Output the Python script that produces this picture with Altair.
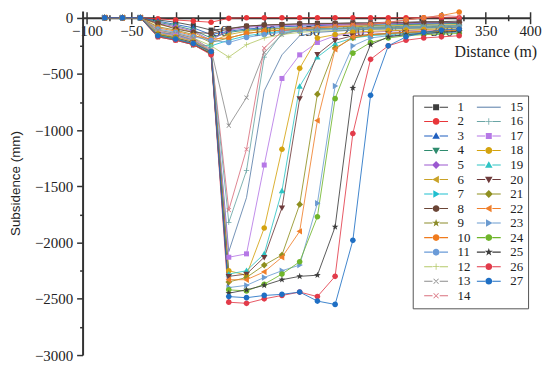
import altair as alt
import pandas as pd

# ---------------- data ----------------
X = [-80, -60, -40, -20, 0, 20, 40, 60, 80, 100, 120, 140, 160, 180, 200, 220, 240, 260, 280, 300, 320]

s01 = [0, 0, 0, -20, -40, -70, -110, -95, -75, -65, -60, -55, -50, -50, -45, -45, -40, -40, -35, -35, -30]
s02 = [0, 0, 0, -10, -20, -30, -40, -5, 0, 0, 0, 0, 0, 0, 0, 0, 0, 0, 0, 0, 0]
s03 = [0, 0, 0, -30, -60, -90, -150, -120, -100, -90, -80, -75, -70, -65, -60, -60, -55, -55, -50, -50, -45]
s04 = [0, 0, 0, -40, -70, -110, -180, -130, -110, -100, -95, -90, -85, -80, -75, -70, -65, -60, -60, -55, -50]
s05 = [0, 0, 0, -50, -80, -120, -200, -110, -85, -75, -70, -65, -60, -60, -55, -55, -50, -50, -45, -45, -40]
s06 = [0, 0, 0, -60, -90, -130, -210, -150, -120, -105, -95, -90, -85, -80, -80, -75, -70, -70, -65, -65, -60]
s07 = [0, 0, 0, -150, -180, -240, -250, -200, -160, -140, -120, -110, -100, -95, -90, -90, -85, -80, -80, -75, -70]
s08 = [0, 0, 0, -50, -100, -130, -140, -100, -75, -65, -60, -55, -55, -50, -50, -50, -45, -45, -40, -40, -40]
s09 = [0, 0, 0, -80, -110, -150, -220, -180, -140, -120, -110, -105, -100, -95, -95, -90, -90, -85, -85, -80, -80]
s10 = [0, 0, 0, -90, -120, -160, -190, -180, -140, -120, -110, -100, -90, -80, -70, -60, -40, -20, 0, 20, 50]
s11 = [0, 0, 0, -100, -130, -170, -200, -220, -175, -150, -130, -120, -110, -105, -100, -100, -95, -90, -90, -85, -80]
s12 = [0, 0, 0, -110, -140, -180, -250, -350, -240, -180, -150, -130, -120, -115, -110, -105, -100, -100, -95, -90, -90]
s13 = [0, 0, 0, -110, -140, -180, -280, -960, -710, -310, -150, -110, -100, -95, -90, -85, -80, -80, -75, -70, -70]
s14 = [0, 0, 0, -120, -150, -190, -290, -1710, -1170, -270, -120, -90, -80, -70, -60, -50, -40, -20, 0, 20, 10]
s15 = [0, 0, 0, -130, -150, -200, -300, -2080, -1600, -650, -330, -160, -130, -120, -110, -100, -100, -95, -90, -90, -85]
s16 = [0, 0, 0, -130, -160, -200, -300, -1820, -1360, -350, -140, -110, -100, -95, -90, -85, -80, -80, -75, -75, -70]
s17 = [0, 0, 0, -140, -160, -210, -300, -2130, -2100, -1310, -540, -330, -220, -160, -140, -130, -120, -115, -110, -110, -105]
s18 = [0, 0, 0, -140, -170, -210, -300, -2250, -2290, -1870, -1170, -450, -180, -150, -130, -120, -115, -110, -105, -100, -100]
s19 = [0, 0, 0, -150, -180, -220, -310, -2280, -2250, -2100, -1540, -610, -350, -230, -180, -160, -150, -140, -135, -130, -125]
s20 = [0, 0, 0, -150, -180, -220, -310, -2300, -2280, -2130, -1690, -720, -325, -200, -160, -150, -140, -130, -125, -120, -115]
s21 = [0, 0, 0, -150, -180, -230, -310, -2350, -2310, -2200, -2110, -1660, -680, -270, -180, -150, -140, -130, -125, -120, -115]
s22 = [0, 0, 0, -160, -190, -230, -310, -2330, -2330, -2260, -2130, -1900, -915, -280, -170, -150, -140, -130, -120, -115, -110]
s23 = [0, 0, 0, -160, -190, -230, -320, -2400, -2380, -2310, -2250, -2200, -1650, -607, -250, -180, -160, -150, -140, -135, -130]
s24 = [0, 0, 0, -160, -190, -240, -320, -2420, -2430, -2370, -2280, -2170, -1770, -720, -315, -220, -180, -160, -150, -145, -140]
s25 = [0, 0, 0, -170, -200, -240, -320, -2450, -2420, -2380, -2330, -2300, -2290, -1860, -625, -240, -170, -150, -140, -130, -120]
s26 = [0, 0, 0, -170, -200, -240, -330, -2530, -2540, -2500, -2470, -2440, -2480, -2300, -1030, -370, -250, -200, -180, -170, -160]
s27 = [0, 0, 0, -160, -190, -230, -300, -2480, -2490, -2470, -2460, -2440, -2520, -2550, -1980, -690, -250, -170, -130, -110, -100]

SERIES = [str(i) for i in range(1, 28)]
VALUES = [s01, s02, s03, s04, s05, s06, s07, s08, s09, s10, s11, s12, s13, s14,
          s15, s16, s17, s18, s19, s20, s21, s22, s23, s24, s25, s26, s27]

COLORS = ['#3d3d3d', '#e8363a', '#1f5fbf', '#2e8b6e', '#9b59d0', '#c9a227', '#1fbfcf',
          '#6b4536', '#8c8c2a', '#f07b1d', '#6a9bd8', '#b5c96a', '#8c8c8c', '#d9707e',
          '#5b7faa', '#6aa5a5', '#b678e6', '#d4a30f', '#2ec4c4', '#6e3b3b', '#8f8f1f',
          '#f07f2a', '#6b9bd0', '#6fb52b', '#3d3d3d', '#e23b4a', '#1f6fc4']

MARKERS = ['square', 'circle', 'up', 'down', 'diamond', 'left', 'right', 'circle', 'star',
           'circle', 'circle', 'plus', 'x', 'x', 'none', 'plus', 'square', 'circle', 'up',
           'down', 'diamond', 'left', 'right', 'circle', 'star', 'circle', 'circle']

XMAJOR = list(range(-100, 401, 50))
XMINOR = list(range(-75, 400, 50))
YMAJOR = list(range(-3000, 1, 500))
YMINOR = list(range(-2750, 0, 500))

# ---------------- table ----------------
rows = []
for name, vals in zip(SERIES, VALUES):
    for xv, yv in zip(X, vals):
        rows.append({"series": name, "x": xv, "y": yv})
df = pd.DataFrame(rows)

# ---------------- marker paths ----------------
PATHS = {
    'square': "M-0.75,-0.75H0.75V0.75H-0.75Z",
    'circle': "M-0.85,0A0.85,0.85,0,1,1,0.85,0A0.85,0.85,0,1,1,-0.85,0Z",
    'up': "M0,-0.95L0.95,0.7H-0.95Z",
    'down': "M0,0.95L0.95,-0.7H-0.95Z",
    'diamond': "M0,-1L1,0L0,1L-1,0Z",
    'left': "M-0.95,0L0.7,-0.95V0.95Z",
    'right': "M0.95,0L-0.7,-0.95V0.95Z",
    'star': "M0,-1.05L0.25,-0.34L1,-0.32L0.4,0.13L0.62,0.85L0,0.42L-0.62,0.85L-0.4,0.13L-1,-0.32L-0.25,-0.34Z",
    'plus': "M-0.8,-0.1H0.8V0.1H-0.8Z M-0.1,-0.8H0.1V0.8H-0.1Z",
    'x': "M-0.7,-0.56L-0.56,-0.7L0.7,0.56L0.56,0.7Z M0.56,-0.7L0.7,-0.56L-0.56,0.7L-0.7,0.56Z",
    'none': "M0,0L0,0Z",
}
LINE_FULL = "M-3,-0.13H3V0.13H-3Z"
LINE_SPLIT = "M-3,-0.13H-0.9V0.13H-3Z M0.9,-0.13H3V0.13H0.9Z"


def legend_path(m):
    if m == 'none':
        return LINE_FULL
    return LINE_SPLIT + " " + PATHS[m]


SHAPE_RANGE = [PATHS[m] for m in MARKERS]
LEGEND_SHAPE_RANGE = [legend_path(m) for m in MARKERS]

# ---------------- layout ----------------
W, H = 450, 346
YMIN, YMAX = -3000, 60
XMIN, XMAX = -105, 400
ZERO_PX = H * YMAX / (YMAX - YMIN)
SERIF = "Liberation Serif"
SANS = "Liberation Sans"
AX = '#333333'

x_scale = alt.Scale(domain=[XMIN, XMAX], nice=False, zero=False)
y_scale = alt.Scale(domain=[YMIN, YMAX], nice=False, zero=False)
color_scale = alt.Scale(domain=SERIES, range=COLORS)


def tick_axis(orient, offset, values, size):
    return alt.Axis(orient=orient, offset=offset, values=values, labels=False,
                    domain=False, tickSize=size, tickColor=AX, tickWidth=1.5,
                    grid=False, title='')


x_axis_bottom = alt.Axis(
    orient='bottom', offset=-(H - ZERO_PX), values=XMAJOR, format='d',
    tickSize=6, tickColor=AX, tickWidth=1.5, domainColor=AX, domainWidth=2,
    labelFont=SERIF, labelFontSize=15, labelColor='#222222', labelPadding=0,
    labelOverlap=False, labelFlush=False, grid=False,
    title='Distance (m)', titleX=415, titleY=34, titleAlign='center',
    titleBaseline='middle', titleFont=SERIF, titleFontSize=16,
    titleFontWeight='normal', titleColor='#222222')

y_axis_major = alt.Axis(
    orient='left', values=YMAJOR, format='d',
    tickSize=6, tickColor=AX, tickWidth=1.5, domainColor=AX, domainWidth=2,
    labelFont=SERIF, labelFontSize=15, labelColor='#222222', labelPadding=4,
    labelOverlap=False, grid=False,
    title='Subsidence (mm)', titleFont=SANS, titleFontSize=13.5,
    titleFontWeight='normal', titleColor='#222222', titlePadding=12)

base = alt.Chart(df)

lines = base.mark_line(strokeWidth=1, opacity=0.85).encode(
    x=alt.X('x:Q', scale=x_scale, axis=x_axis_bottom),
    y=alt.Y('y:Q', scale=y_scale, axis=y_axis_major),
    color=alt.Color('series:N', scale=color_scale, legend=None),
)

points = base.mark_point(filled=True, size=45, opacity=1, strokeWidth=0).encode(
    x=alt.X('x:Q', scale=x_scale, axis=tick_axis('top', -ZERO_PX, XMAJOR, 6)),
    y=alt.Y('y:Q', scale=y_scale, axis=tick_axis('left', 0, YMINOR, 3)),
    color=alt.Color('series:N', scale=color_scale, legend=None),
    shape=alt.Shape('series:N', scale=alt.Scale(domain=SERIES, range=SHAPE_RANGE), legend=None),
)

leg = alt.Legend(
    orient='none', legendX=332, legendY=85, columns=2, title='',
    symbolSize=64, symbolOffset=12, labelOffset=15, columnPadding=-2,
    rowPadding=0.6, padding=5, strokeColor='#555555', fillColor='white',
    labelFont=SERIF, labelFontSize=13, labelColor='#222222',
    symbolStrokeWidth=0, symbolOpacity=1, labelLimit=40)

legend_layer = base.mark_point(filled=True, size=0, strokeWidth=0).encode(
    x=alt.X('x:Q', scale=x_scale, axis=tick_axis('bottom', -(H - ZERO_PX), XMINOR, 3)),
    y=alt.Y('y:Q', scale=y_scale, axis=None),
    color=alt.Color('series:N', scale=color_scale, legend=leg),
    shape=alt.Shape('series:N', scale=alt.Scale(domain=SERIES, range=LEGEND_SHAPE_RANGE), legend=leg),
)

minor_top = base.mark_point(size=0, strokeWidth=0, opacity=0).encode(
    x=alt.X('x:Q', scale=x_scale, axis=tick_axis('top', -ZERO_PX, XMINOR, 3)),
    y=alt.Y('y:Q', scale=y_scale, axis=None),
)

chart = alt.layer(lines, points, legend_layer, minor_top).resolve_scale(
    color='independent', shape='independent'
).resolve_axis(x='independent', y='independent').properties(
    width=W, height=H, padding=0, background='white'
).configure_view(strokeWidth=0)

chart.save("out.html", embed_options={"renderer": "svg", "actions": False})
